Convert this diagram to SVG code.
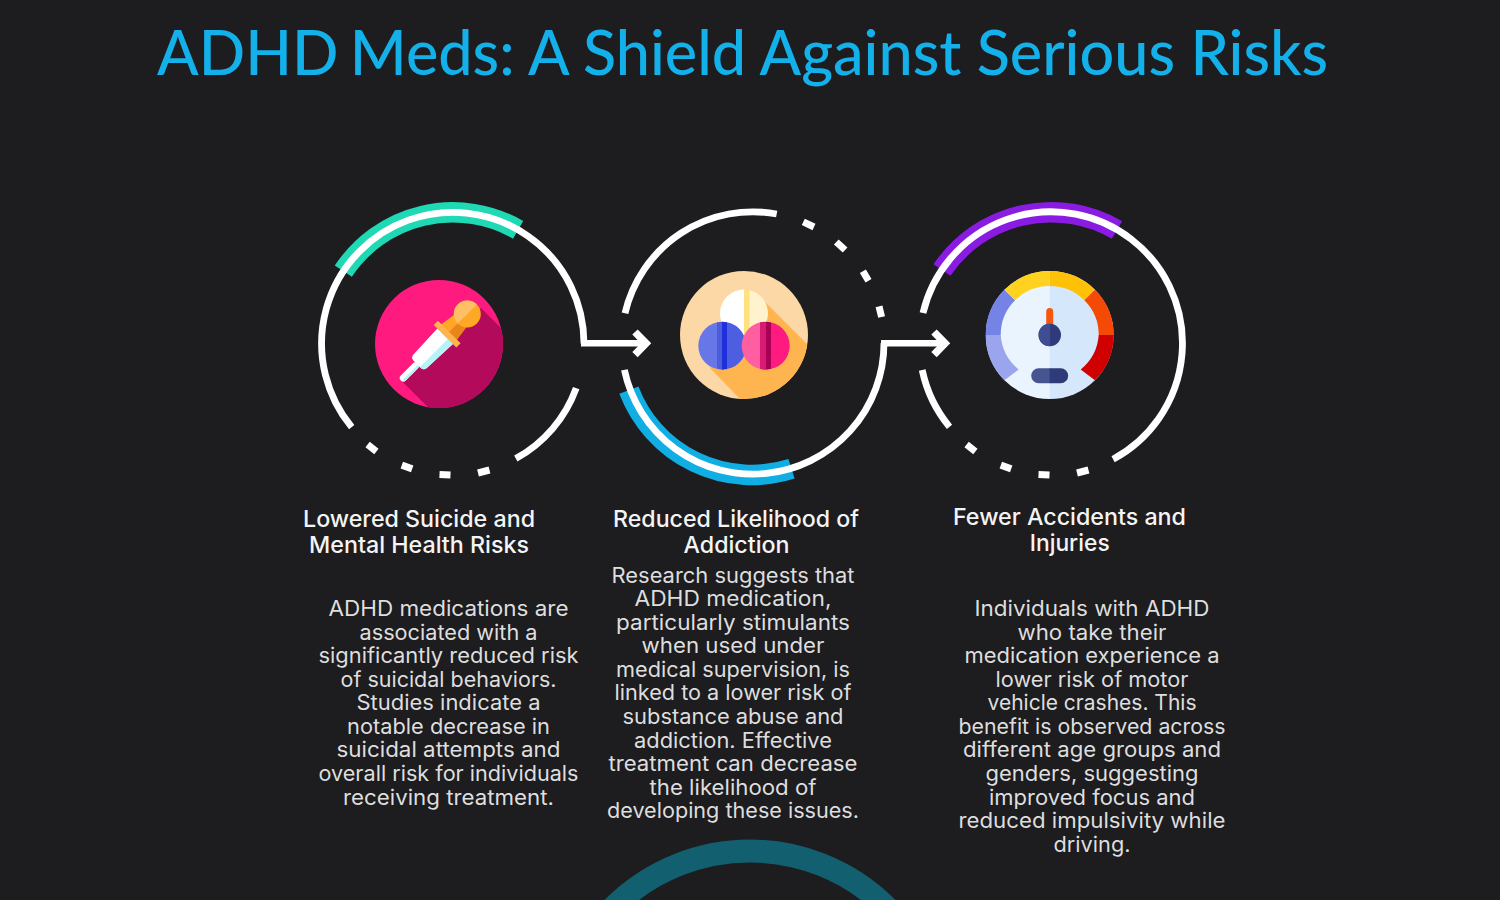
<svg xmlns="http://www.w3.org/2000/svg" width="1500" height="900" viewBox="0 0 1500 900">
<style>
.ring{fill:none;stroke:#fff;stroke-width:6.8}
.accent{fill:none;stroke-width:20.5}
.dash{stroke:#fff;stroke-width:7;fill:none}
.conn{fill:none;stroke:#fff;stroke-width:6.5}
.chev{fill:none;stroke:#fff;stroke-width:7.5}
.title{font-family:"Lato","Liberation Sans",sans-serif;font-size:61.5px;font-weight:500;fill:#14b0ea}
.h{font-family:"Inter","Liberation Sans",sans-serif;font-size:23px;font-weight:500;fill:#f4f4f4;text-anchor:middle}
.b{font-family:"Inter","Liberation Sans",sans-serif;font-size:21px;font-weight:400;fill:#dedede;text-anchor:middle}
</style>
<defs>
<clipPath id="c1"><circle cx="439" cy="344" r="64"/></clipPath>
<clipPath id="c2"><circle cx="744" cy="335" r="64"/></clipPath>
<clipPath id="pw"><circle cx="744" cy="313.5" r="24"/></clipPath>
<clipPath id="pb"><circle cx="722.3" cy="345.7" r="24"/></clipPath>
<clipPath id="pp"><circle cx="765.7" cy="345.7" r="24"/></clipPath>
<clipPath id="g1"><circle cx="0" cy="0" r="64"/></clipPath>
</defs>
<rect width="1500" height="900" fill="#1d1c1f"/>
<text class="title" x="157" y="75" textLength="1171" lengthAdjust="spacingAndGlyphs">ADHD <tspan dx="-4">Meds: A Shield Against Serious Risks</tspan></text>

<g id="node-suicide">
<path class="accent" stroke="#1fd8b4" d="M343.3 271.2A131.2 131.2 0 0 1 518.1 229.8"/>
<path class="ring" d="M351.7 427.2A131.2 131.2 0 1 1 584 343.5"/>
<path class="ring" d="M515.8 458.6A131.2 131.2 0 0 0 576.2 388.1"/>
<path class="dash" d="M367.6 444.6L376.4 451.4M401.8 465.1L412.2 468.9M439.5 474.5L450.5 475M478 473L489.5 470"/>
<circle cx="439" cy="344" r="64" fill="#ff1a7f"/>
<polygon clip-path="url(#c1)" fill="#b30a5b" points="481,308 541,368 465,444 401.7,381"/>
<g transform="translate(467.3 314) rotate(135)">
<rect x="70" y="-3.5" width="24" height="7" rx="3.5" fill="#fff"/>
<rect x="70" y="-3.5" width="22" height="2.5" fill="#b5f3f7"/>
<path d="M31 -11L66 -9.5Q71 -9.5 71 -5V5Q71 9.5 66 9.5L31 11Z" fill="#fff"/>
<path d="M31 -11L66 -9.5Q71 -9.5 71 -5V-4H31Z" fill="#b5f3f7"/>
<path d="M8 -8.5L26 -11V0H8Z" fill="#e8861a"/>
<path d="M8 8.5L26 11V0H8Z" fill="#ffa826"/>
<rect x="25.5" y="-16" width="6" height="32" fill="#ffb54f"/>
<circle r="13.5" fill="#ffa826"/>
<path d="M-13.5 0A13.5 13.5 0 0 0 13.5 0Z" fill="#ffbf66"/>
</g>
</g>

<g id="node-addiction">
<path class="accent" stroke="#10aee2" d="M628.9 390.1A131.5 131.5 0 0 0 791.5 468.8"/>
<path class="ring" d="M625 313.2A131.2 131.2 0 0 1 776.7 214"/>
<path class="ring" d="M884 343A131.2 131.2 0 0 1 624.4 369.9"/>
<path class="dash" d="M803.3 221.9L814 227M836.3 242L845.1 250M862.9 271.3L868.5 280.7M879 306.4L881.6 317"/>
<circle cx="744" cy="335" r="64" fill="#fbd8a5"/>
<polygon clip-path="url(#c2)" fill="#ffb54f" points="765,302 825,362 770,430 710,368"/>
<g clip-path="url(#pw)">
<rect x="720" y="289" width="25" height="49" fill="#fff"/>
<rect x="749" y="289" width="19" height="49" fill="#fff2cc"/>
<rect x="744" y="289" width="5.5" height="49" fill="#ffe27d"/>
</g>
<g clip-path="url(#pb)">
<rect x="698" y="321" width="20" height="49" fill="#6877e8"/>
<rect x="726" y="321" width="21" height="49" fill="#4d5fe0"/>
<rect x="717" y="321" width="5.5" height="49" fill="#4b5cdc"/>
<rect x="722" y="321" width="5" height="49" fill="#1f2fdc"/>
</g>
<g clip-path="url(#pp)">
<rect x="741" y="321" width="20" height="49" fill="#ff5fa0"/>
<rect x="770" y="321" width="20" height="49" fill="#ff1a7f"/>
<rect x="760" y="321" width="6.5" height="49" fill="#d91a74"/>
<rect x="766" y="321" width="5" height="49" fill="#a80055"/>
</g>
</g>

<g id="node-accidents">
<path class="accent" stroke="#8a1be2" d="M942 270A131.5 131.5 0 0 1 1117 230"/>
<path class="ring" d="M923 313A131.5 131.5 0 1 1 1113.1 459.2"/>
<path class="ring" d="M949.5 426.8A131.5 131.5 0 0 1 922.2 370"/>
<path class="dash" d="M966.6 444.6L975.4 451.4M1000.8 465.1L1011.2 468.9M1038.5 474.5L1049.5 475M1077 473L1088.5 470"/>
<g transform="translate(1049.7 335)">
<g clip-path="url(#g1)">
<rect x="-64" y="-64" width="65" height="128" fill="#eaf4ff"/>
<rect x="0" y="-64" width="64" height="128" fill="#d5e8fb"/>
</g>
<path d="M-64 0A64 64 0 0 0 -45.25 45.25L-31 34.5A49 49 0 0 1 -49 0Z" fill="#9aa5ee"/>
<path d="M-64 0A64 64 0 0 1 -45.25 -45.25L-34.65 -34.65A49 49 0 0 0 -49 0Z" fill="#7683e6"/>
<path d="M-45.25 -45.25A64 64 0 0 1 0 -64V-49A49 49 0 0 0 -34.65 -34.65Z" fill="#ffd21f"/>
<path d="M45.25 -45.25A64 64 0 0 0 0 -64V-49A49 49 0 0 1 34.65 -34.65Z" fill="#ffc107"/>
<path d="M64 0A64 64 0 0 0 45.25 -45.25L34.65 -34.65A49 49 0 0 1 49 0Z" fill="#f44a06"/>
<path d="M64 0A64 64 0 0 1 45.25 45.25L31 34.5A49 49 0 0 0 49 0Z" fill="#d00000"/>
<rect x="-3.5" y="-27" width="7" height="20" rx="3.5" fill="#f4580f"/>
<circle r="11.3" fill="#2f3a7a"/>
<path d="M0.5 -11.3A11.3 11.3 0 0 0 0.5 11.3Z" fill="#3f4d93"/>
<path d="M0.5 33.3H-11A7.5 7.5 0 0 0 -11 48.3H0.5Z" fill="#46558f"/>
<path d="M0 33.3H11A7.5 7.5 0 0 1 11 48.3H0Z" fill="#2e3b78"/>
</g>
</g>

<g id="connectors">
<path class="conn" d="M581 343.3H646"/>
<path class="chev" d="M635 332L646 343.3L635 354.6"/>
<path class="conn" d="M881 343.3H945"/>
<path class="chev" d="M934 332L945 343.3L934 354.6"/>
</g>

<g id="text-1">
<text class="h" x="419" y="527" textLength="232" lengthAdjust="spacingAndGlyphs">Lowered Suicide and</text>
<text class="h" x="419" y="552.5" textLength="220" lengthAdjust="spacingAndGlyphs">Mental Health Risks</text>
<text class="b" x="448.5" y="616" textLength="240" lengthAdjust="spacingAndGlyphs">ADHD medications are</text>
<text class="b" x="448.5" y="639.5" textLength="178" lengthAdjust="spacingAndGlyphs">associated with a</text>
<text class="b" x="448.5" y="663" textLength="260" lengthAdjust="spacingAndGlyphs">significantly reduced risk</text>
<text class="b" x="448.5" y="686.6" textLength="216" lengthAdjust="spacingAndGlyphs">of suicidal behaviors.</text>
<text class="b" x="448.5" y="710.2" textLength="184" lengthAdjust="spacingAndGlyphs">Studies indicate a</text>
<text class="b" x="448.5" y="733.8" textLength="203" lengthAdjust="spacingAndGlyphs">notable decrease in</text>
<text class="b" x="448.5" y="757.4" textLength="224" lengthAdjust="spacingAndGlyphs">suicidal attempts and</text>
<text class="b" x="448.5" y="781" textLength="260" lengthAdjust="spacingAndGlyphs">overall risk for individuals</text>
<text class="b" x="448.5" y="804.6" textLength="211" lengthAdjust="spacingAndGlyphs">receiving treatment.</text>
</g>
<g id="text-2">
<text class="h" x="736" y="527" textLength="246" lengthAdjust="spacingAndGlyphs">Reduced Likelihood of</text>
<text class="h" x="736.5" y="552.7" textLength="106" lengthAdjust="spacingAndGlyphs">Addiction</text>
<text class="b" x="733" y="582.5" textLength="243" lengthAdjust="spacingAndGlyphs">Research suggests that</text>
<text class="b" x="733" y="606" textLength="197" lengthAdjust="spacingAndGlyphs">ADHD medication,</text>
<text class="b" x="733" y="629.6" textLength="234" lengthAdjust="spacingAndGlyphs">particularly stimulants</text>
<text class="b" x="733" y="653.2" textLength="183" lengthAdjust="spacingAndGlyphs">when used under</text>
<text class="b" x="733" y="676.8" textLength="234" lengthAdjust="spacingAndGlyphs">medical supervision, is</text>
<text class="b" x="733" y="700.4" textLength="237" lengthAdjust="spacingAndGlyphs">linked to a lower risk of</text>
<text class="b" x="733" y="724" textLength="221" lengthAdjust="spacingAndGlyphs">substance abuse and</text>
<text class="b" x="733" y="747.6" textLength="198" lengthAdjust="spacingAndGlyphs">addiction. Effective</text>
<text class="b" x="733" y="771.2" textLength="249" lengthAdjust="spacingAndGlyphs">treatment can decrease</text>
<text class="b" x="733" y="794.8" textLength="167" lengthAdjust="spacingAndGlyphs">the likelihood of</text>
<text class="b" x="733" y="818.4" textLength="252" lengthAdjust="spacingAndGlyphs">developing these issues.</text>
</g>
<g id="text-3">
<text class="h" x="1069.5" y="525" textLength="233" lengthAdjust="spacingAndGlyphs">Fewer Accidents and</text>
<text class="h" x="1069.7" y="551" textLength="80" lengthAdjust="spacingAndGlyphs">Injuries</text>
<text class="b" x="1092" y="616" textLength="235" lengthAdjust="spacingAndGlyphs">Individuals with ADHD</text>
<text class="b" x="1092" y="639.5" textLength="149" lengthAdjust="spacingAndGlyphs">who take their</text>
<text class="b" x="1092" y="663" textLength="255" lengthAdjust="spacingAndGlyphs">medication experience a</text>
<text class="b" x="1092" y="686.6" textLength="193" lengthAdjust="spacingAndGlyphs">lower risk of motor</text>
<text class="b" x="1092" y="710.2" textLength="209" lengthAdjust="spacingAndGlyphs">vehicle crashes. This</text>
<text class="b" x="1092" y="733.8" textLength="267" lengthAdjust="spacingAndGlyphs">benefit is observed across</text>
<text class="b" x="1092" y="757.4" textLength="258" lengthAdjust="spacingAndGlyphs">different age groups and</text>
<text class="b" x="1092" y="781" textLength="213" lengthAdjust="spacingAndGlyphs">genders, suggesting</text>
<text class="b" x="1092" y="804.6" textLength="206" lengthAdjust="spacingAndGlyphs">improved focus and</text>
<text class="b" x="1092" y="828.2" textLength="267" lengthAdjust="spacingAndGlyphs">reduced impulsivity while</text>
<text class="b" x="1092" y="851.8" textLength="77" lengthAdjust="spacingAndGlyphs">driving.</text>
</g>
<circle cx="750" cy="1045" r="194" fill="none" stroke="#125f70" stroke-width="23"/>
</svg>
